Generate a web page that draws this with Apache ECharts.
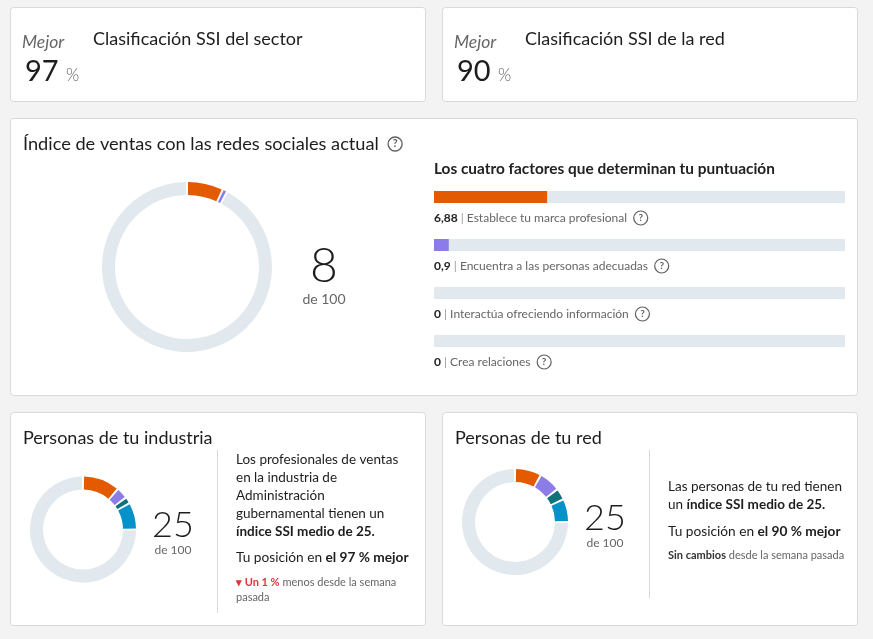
<!DOCTYPE html>
<html>
<head>
<meta charset="utf-8">
<script src="https://cdn.jsdelivr.net/npm/echarts@6/dist/echarts.min.js"></script>
<style>
html,body{margin:0;padding:0;background:#f3f3f3;}
#c{width:873px;height:639px;}
</style>
</head>
<body>
<div id="c"></div>
<script>
// ---- data ----
const factorNames = ['Establece tu marca profesional','Encuentra a las personas adecuadas','Interactúa ofreciendo información','Crea relaciones'];
const factorValues = [6.88, 0.9, 0, 0];
const factorMax = 25;
const industryBreakdown = [11.3, 3.5, 2, 8.2];
const networkBreakdown = [8, 6.5, 3.5, 7];
const industryAvg = 25;
const networkAvg = 25;
const sectorRank = 97;
const networkRank = 90;
const industryChange = 1;
const scoreMax = 100;

const COLORS = ['#e35a00', '#8c7ce8', '#0e737a', '#0692c8'];
const TRACK = '#e1e8ee';
const FF = 'Lato, "Noto Sans", sans-serif';
const DARK = '#1d1d1d';
const GRAY = '#666666';

const fmt = v => String(v).replace('.', ',');
const ssi = Math.round(factorValues.reduce((a, b) => a + b, 0));

const chart = echarts.init(document.getElementById('c'), null, {renderer: 'canvas'});

function donut(center, radius, vals, pad) {
  const sum = vals.reduce((a, b) => a + b, 0);
  const data = vals.map((v, i) => ({value: v, itemStyle: {color: COLORS[i]}})).filter(d => d.value > 0);
  data.push({value: scoreMax - sum, itemStyle: {color: TRACK}});
  return {
    type: 'pie', center, radius, startAngle: 90, clockwise: true, padAngle: pad,
    label: {show: false}, labelLine: {show: false}, silent: true, animation: false,
    emphasis: {disabled: true}, data
  };
}

function T(x, y, text, o) {
  return Object.assign({type: 'text', x, y, silent: true, style: Object.assign({
    text, fontFamily: FF, fontSize: 13, fill: DARK, verticalAlign: 'middle', align: 'left'
  }, o || {})});
}
const qRich = {q: {width: 12, height: 12, lineHeight: 12, align: 'center', stroke: '#5f5f5f', borderColor: '#5f5f5f', borderWidth: 1.3, borderRadius: 8, fontSize: 10.5, fontWeight: 'bold', fill: '#5f5f5f', fontFamily: FF, padding: [1, 1, 1, 1]}};
const richN = (sz) => ({fontSize: sz, fontFamily: FF, fill: DARK});
const richB = (sz) => ({fontSize: sz, fontFamily: FF, fontWeight: 'bold', fill: DARK});

function card(x, y, w, h) {
  return {type: 'rect', z: -10, silent: true, shape: {x, y, width: w, height: h, r: 3}, style: {fill: '#fff', stroke: '#d9d9d9', lineWidth: 1}};
}

const graphics = [
  card(10.5, 7.5, 415, 94), card(442.5, 7.5, 415, 94), card(10.5, 118.5, 847, 277),
  card(10.5, 412.5, 415, 213), card(442.5, 412.5, 415, 213),
  // top cards
  T(22, 42, 'Mejor', {fontSize: 17.5, fontStyle: 'italic', fill: GRAY}),
  T(25, 72, String(sectorRank), {fontSize: 29, fontWeight: 'normal', fill: DARK}),
  T(66, 76, '%', {fontSize: 17, fill: GRAY, fontWeight: 300}),
  T(93, 39, 'Clasificación SSI del sector', {fontSize: 18}),
  T(454, 42, 'Mejor', {fontSize: 17.5, fontStyle: 'italic', fill: GRAY}),
  T(457, 72, String(networkRank), {fontSize: 29, fontWeight: 'normal', fill: DARK}),
  T(498, 76, '%', {fontSize: 17, fill: GRAY, fontWeight: 300}),
  T(525, 39, 'Clasificación SSI de la red', {fontSize: 18}),
  // main card
  T(23, 144, 'Índice de ventas con las redes sociales actual  {q|?}', {fontSize: 18.2, rich: qRich}),
  T(434, 169, 'Los cuatro factores que determinan tu puntuación', {fontSize: 15.4, fontWeight: 'bold', fill: '#222'}),
  T(324, 267, String(ssi), {fontSize: 48, fontWeight: 300, align: 'center', fill: DARK}),
  T(324, 299, 'de ' + scoreMax, {fontSize: 14, align: 'center', fill: GRAY}),
  // industry card
  T(23, 438, 'Personas de tu industria', {fontSize: 18}),
  {type: 'line', silent: true, shape: {x1: 217.5, y1: 450, x2: 217.5, y2: 613}, style: {stroke: '#dadada', lineWidth: 1}},
  T(173, 525, String(industryAvg), {fontSize: 36, fontWeight: 300, align: 'center'}),
  T(173, 550, 'de ' + scoreMax, {fontSize: 12, align: 'center', fill: GRAY}),
  T(236, 460, 'Los profesionales de ventas', {fontSize: 13.5}),
  T(236, 478, 'en la industria de', {fontSize: 13.5}),
  T(236, 496, 'Administración', {fontSize: 13.5}),
  T(236, 514, 'gubernamental tienen un', {fontSize: 13.5}),
  T(236, 532, 'índice SSI medio de ' + industryAvg + '.', {fontSize: 13.5, fontWeight: 'bold'}),
  T(236, 558, '{n|Tu posición en }{b|el ' + sectorRank + ' % mejor}', {fontSize: 13.5,
    rich: {n: richN(13.7), b: richB(13.7)}}),
  T(236, 582, '{r|▾ Un ' + industryChange + ' %}{g| menos desde la semana}', {fontSize: 11,
    rich: {r: {fontSize: 11, fontFamily: FF, fill: '#e2323e', fontWeight: 'bold'}, g: {fontSize: 11, fontFamily: FF, fill: GRAY}}}),
  T(236, 597, 'pasada', {fontSize: 11, fill: GRAY}),
  // network card
  T(455, 438, 'Personas de tu red', {fontSize: 18}),
  {type: 'line', silent: true, shape: {x1: 649.5, y1: 450, x2: 649.5, y2: 598}, style: {stroke: '#dadada', lineWidth: 1}},
  T(605, 518, String(networkAvg), {fontSize: 36, fontWeight: 300, align: 'center'}),
  T(605, 543, 'de ' + scoreMax, {fontSize: 12, align: 'center', fill: GRAY}),
  T(668, 487, 'Las personas de tu red tienen', {fontSize: 13.5}),
  T(668, 505, '{n|un }{b|índice SSI medio de ' + networkAvg + '.}', {fontSize: 13.5,
    rich: {n: richN(13.5), b: richB(13.5)}}),
  T(668, 532, '{n|Tu posición en }{b|el ' + networkRank + ' % mejor}', {fontSize: 13.5,
    rich: {n: richN(13.7), b: richB(13.7)}}),
  T(668, 555, '{b|Sin cambios}{g| desde la semana pasada}', {fontSize: 11,
    rich: {b: {fontSize: 11, fontFamily: FF, fill: '#333', fontWeight: 'bold'}, g: {fontSize: 11, fontFamily: FF, fill: GRAY}}})
];

const option = {
  animation: false,
  backgroundColor: '#f3f3f3',
  graphic: {elements: graphics},
  grid: {left: 434, width: 411, top: 173, height: 192, outerBoundsMode: 'none', containLabel: false},
  xAxis: {type: 'value', min: 0, max: factorMax, show: false},
  yAxis: {
    type: 'category', inverse: true, data: factorNames,
    axisLine: {show: false}, axisTick: {show: false}, splitLine: {show: false},
    axisLabel: {
      inside: true, margin: 0, verticalAlign: 'top', align: 'left', padding: [15, 0, 0, 0],
      formatter: (name, i) => '{v|' + fmt(factorValues[i]) + '}{s| | }{n|' + name + '}  {q|?}',
      rich: {
        v: {fontSize: 12, fontFamily: FF, color: '#222', fontWeight: 'bold'},
        s: {fontSize: 12, fontFamily: FF, color: '#999'},
        n: {fontSize: 12, fontFamily: FF, color: GRAY},
        q: {width: 12, height: 12, lineHeight: 12, align: 'center', borderColor: '#5f5f5f', borderWidth: 1.2, borderRadius: 8, fontSize: 10, fontWeight: 'bold', color: '#5f5f5f', fontFamily: FF, padding: [1, 1, 1, 1]}
      }
    }
  },
  series: [
    {
      type: 'bar', barWidth: 12, silent: true, animation: false,
      showBackground: true, backgroundStyle: {color: TRACK},
      data: factorValues.map((v, i) => ({value: v, itemStyle: {color: COLORS[i]}}))
    },
    donut([187, 267], [72, 85], factorValues, 1.4),
    donut([83, 529.5], [40, 53], industryBreakdown, 2.4),
    donut([515, 522], [40, 53], networkBreakdown, 2.4)
  ]
};
chart.setOption(option);
</script>
</body>
</html>
